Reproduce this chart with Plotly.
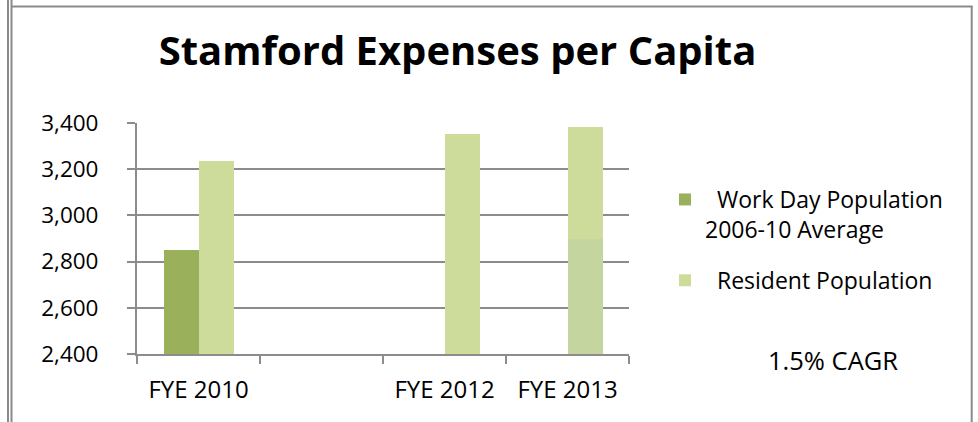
import plotly.graph_objects as go

categories = ["FYE 2010", " ", "FYE 2012", "FYE 2013"]
work_day = [2850, None, None, None]
resident = [3237, None, 3351, 3384]
work_day_2013_overlay = [None, None, None, 2900]
y_ticks = [2400, 2600, 2800, 3000, 3200, 3400]

FONT = "Open Sans"
GRID = "#8c8c8c"

# plot area in pixels
L, R, T, B = 137, 629, 123, 354
W, H = R - L, B - T

def px(x):
    return (x - L) / W

def py(y):
    return (B - y) / H

fig = go.Figure()
fig.add_trace(go.Bar(
    x=categories, y=work_day, name="\u00a0\u00a0Work Day Population<br>2006-10 Average",
    legendgroup="work",
    marker=dict(color="#9bb05a", line=dict(width=0)), offset=-0.28, width=0.283,
))
fig.add_trace(go.Bar(
    x=categories, y=resident, name="\u00a0\u00a0Resident Population",
    legendgroup="resident",
    marker=dict(color="#cddc9a", line=dict(width=0)), offset=0.004, width=0.285,
))
fig.add_trace(go.Bar(
    x=categories, y=work_day_2013_overlay, showlegend=False, legendgroup="overlay",
    marker=dict(color="#c4d59f", line=dict(width=0)), offset=0.004, width=0.285,
))

shapes = []
lc = "#8a8a8a"
for xx in (8, 11.5):
    shapes.append(dict(type="line", xref="paper", yref="paper", x0=px(xx), x1=px(xx),
                       y0=py(0), y1=py(422), line=dict(color=lc, width=2)))
shapes.append(dict(type="line", xref="paper", yref="paper", x0=px(11), x1=px(972.5),
                   y0=py(6.5), y1=py(6.5), line=dict(color=lc, width=2)))
shapes.append(dict(type="line", xref="paper", yref="paper", x0=px(971.7), x1=px(971.7),
                   y0=py(6), y1=py(422), line=dict(color=lc, width=2)))

fig.update_layout(
    width=978, height=422,
    margin=dict(l=L, r=978 - R, t=T, b=422 - B),
    paper_bgcolor="white", plot_bgcolor="white",
    barmode="overlay",
    bargap=0,
    font=dict(family=FONT, size=22, color="black"),
    title=dict(text="<b>Stamford Expenses per Capita</b>",
               font=dict(family=FONT, size=40, color="black"),
               x=457.5 / 978, xanchor="center", y=1 - 51 / 422, yanchor="middle"),
    xaxis=dict(
        type="category", categoryorder="array", categoryarray=categories,
        range=[-0.5, 3.5],
        showline=True, linecolor=GRID, linewidth=2,
        showgrid=False, ticks="outside", ticklen=8, tickcolor=GRID, tickwidth=2,
        tickson="boundaries", ticklabelstandoff=13,
        tickfont=dict(family=FONT, size=24, color="black"),
    ),
    yaxis=dict(
        range=[2400, 3400], tickvals=y_ticks, tickformat=",d",
        showline=True, linecolor=GRID, linewidth=2,
        showgrid=True, gridcolor=GRID, gridwidth=2,
        ticks="outside", ticklen=8, tickcolor=GRID, tickwidth=2,
        ticklabelstandoff=24, zeroline=False,
        tickfont=dict(family=FONT, size=22.5, color="black"),
    ),
    legend=dict(x=px(665), y=py(178), xanchor="left", yanchor="top",
                valign="top", font=dict(family=FONT, size=23, color="black"),
                bgcolor="rgba(0,0,0,0)", traceorder="grouped", tracegroupgap=18,
                itemwidth=30),
    annotations=[dict(text="1.5% CAGR", xref="paper", yref="paper", x=px(833), y=py(360),
                      xanchor="center", yanchor="middle", showarrow=False,
                      font=dict(family=FONT, size=25.5, color="black"))],
    shapes=shapes,
)

fig.write_html("out.html")
